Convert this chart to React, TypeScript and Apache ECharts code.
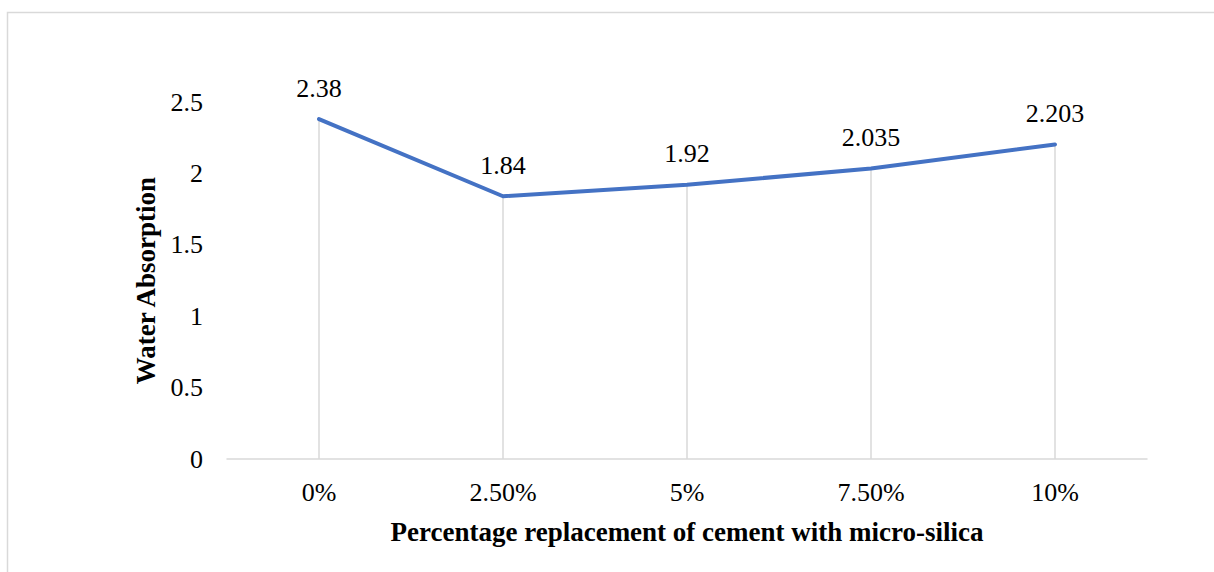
import React, { useEffect, useRef } from "react";
import * as echarts from "echarts";

const categories = ["0%", "2.50%", "5%", "7.50%", "10%"];
const waterAbsorption = [2.38, 1.84, 1.92, 2.035, 2.203];
const yTicks = { min: 0, max: 2.5, interval: 0.5 };

const FONT = "'Liberation Serif', 'Times New Roman', serif";

export default function App() {
  const ref = useRef<HTMLDivElement>(null);
  useEffect(() => {
    if (!ref.current) return;
    const chart = echarts.init(ref.current, null, { renderer: "svg" });
    chart.setOption({
      animation: false,
      textStyle: { fontFamily: FONT },
      grid: { left: 227, right: 67, top: 102, bottom: 113 },
      graphic: [
        {
          type: "rect",
          shape: { x: 7.5, y: 12.5, width: 1220, height: 600 },
          style: { fill: "none", stroke: "#d9d9d9", lineWidth: 1.5 },
          silent: true,
        },
      ],
      xAxis: {
        type: "category",
        data: categories,
        boundaryGap: true,
        axisLine: { show: true, lineStyle: { color: "#d9d9d9", width: 1.5 } },
        axisTick: { show: false },
        splitLine: { show: false },
        axisLabel: { color: "#000", fontSize: 26, fontFamily: FONT, margin: 20 },
        name: "Percentage replacement of cement with micro-silica",
        nameLocation: "middle",
        nameGap: 59,
        nameTextStyle: { color: "#000", fontSize: 27, fontWeight: "bold", fontFamily: FONT },
      },
      yAxis: {
        type: "value",
        min: yTicks.min,
        max: yTicks.max,
        interval: yTicks.interval,
        axisLine: { show: false },
        axisTick: { show: false },
        splitLine: { show: false },
        axisLabel: { color: "#000", fontSize: 26, fontFamily: FONT, margin: 24 },
        name: "Water Absorption",
        nameLocation: "middle",
        nameRotate: 90,
        nameGap: 66,
        nameTextStyle: { color: "#000", fontSize: 27, fontWeight: "bold", fontFamily: FONT },
      },
      series: [
        {
          type: "bar",
          data: waterAbsorption,
          barWidth: 1.5,
          itemStyle: { color: "#d9d9d9" },
          silent: true,
          z: 1,
          label: {
            show: true,
            position: "top",
            distance: 18,
            color: "#000",
            fontSize: 26,
            fontFamily: FONT,
            formatter: (p: any) => String(p.value),
          },
        },
        {
          type: "line",
          data: waterAbsorption,
          showSymbol: false,
          symbol: "none",
          lineStyle: { color: "#4472C4", width: 4, cap: "round", join: "round" },
          z: 3,
        },
      ],
    });
    return () => chart.dispose();
  }, []);
  return (
    <div
      ref={ref}
      style={{ position: "absolute", left: 0, top: 0, width: 1214, height: 572, background: "#fff" }}
    />
  );
}
